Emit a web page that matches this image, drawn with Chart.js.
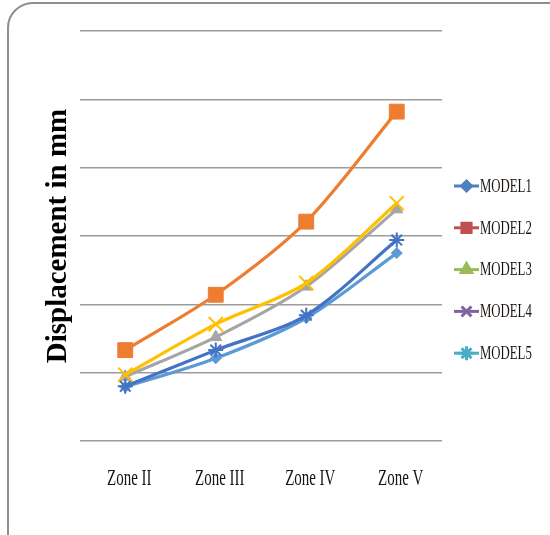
<!DOCTYPE html>
<html>
<head>
<meta charset="utf-8">
<script src="https://cdn.jsdelivr.net/npm/chart.js@4.4.1/dist/chart.umd.min.js"></script>
<style>
  html, body { margin: 0; padding: 0; background: #fff; overflow: hidden; }
  #wrap { position: relative; width: 550px; height: 535px; overflow: hidden; background: #fff; }
  #frame {
    position: absolute; left: 7px; top: 2px; width: 580px; height: 580px;
    border: 2px solid #8e8e8e; border-radius: 26px; box-sizing: border-box;
  }
  canvas { position: absolute; left: 0; top: 0; }
</style>
</head>
<body>
<div id="wrap">
  <div id="frame"></div>
  <canvas id="chart" width="550" height="535"></canvas>
</div>
<script>
// Categories and series values (displacement, arbitrary units of the axis grid)
const zones  = ['Zone II', 'Zone III', 'Zone IV', 'Zone V'];
const model1 = [0.79, 1.21, 1.80, 2.75];
const model2 = [1.33, 2.14, 3.21, 4.82];
const model3 = [0.94, 1.52, 2.26, 3.39];
const model4 = [0.97, 1.71, 2.31, 3.48];
const model5 = [0.80, 1.33, 1.84, 2.94];
const seriesNames = ['MODEL1', 'MODEL2', 'MODEL3', 'MODEL4', 'MODEL5'];
const yTitle = 'Displacement in mm';

const lineColors   = ['#5B9BD5', '#ED7D31', '#A5A5A5', '#FFC000', '#4472C4'];
const legendColors = ['#4F81BD', '#C0504D', '#9BBB59', '#8064A2', '#4BACC6'];
const markerStyles = ['rectRot', 'rect', 'triangle', 'crossRot', 'star'];
const markerRadii  = [5.5, 10.5, 7, 10, 7.5];
const legendRadii  = [5, 6.5, 6, 7, 7];

const seriesValues = [model1, model2, model3, model4, model5];

const datasets = seriesValues.map((vals, i) => ({
  label: seriesNames[i],
  data: vals,
  borderColor: lineColors[i],
  backgroundColor: lineColors[i],
  borderWidth: 3.2,
  tension: 0.3,
  pointStyle: markerStyles[i],
  pointRadius: markerRadii[i],
  pointBorderWidth: (markerStyles[i] === 'crossRot' || markerStyles[i] === 'star') ? 2 : 1,
  pointBackgroundColor: lineColors[i],
  pointBorderColor: lineColors[i],
  order: seriesValues.length - i   // later series sit on top
}));

// Narrow serif labels under the category axis and the line+marker legend at the right
const narrowText = {
  id: 'narrowText',
  afterDraw(chart) {
    const ctx = chart.ctx;
    const xs = chart.scales.x;
    const area = chart.chartArea;
    ctx.save();
    ctx.fillStyle = '#1a1410';
    ctx.textAlign = 'center';
    ctx.textBaseline = 'middle';
    ctx.font = '23px "Liberation Serif", "Times New Roman", serif';
    zones.forEach((z, i) => {
      const x = xs.getPixelForValue(i);
      ctx.save();
      ctx.translate(x + 4, area.bottom + 38);
      ctx.scale(0.65, 1);
      ctx.fillText(z, 0, 0);
      ctx.restore();
    });

    // legend
    const lx0 = area.right + 12, lx1 = area.right + 37;
    chart.data.datasets.forEach((ds, i) => {
      const y = 186 + i * 41.8;
      ctx.strokeStyle = legendColors[i];
      ctx.fillStyle = legendColors[i];
      ctx.lineWidth = 3;
      ctx.beginPath();
      ctx.moveTo(lx0, y);
      ctx.lineTo(lx1, y);
      ctx.stroke();
      Chart.helpers.drawPoint(ctx, {
        pointStyle: markerStyles[i],
        radius: legendRadii[i],
        rotation: 0,
        borderWidth: 1.5
      }, (lx0 + lx1) / 2, y);
      ctx.save();
      ctx.fillStyle = '#1a1410';
      ctx.textAlign = 'left';
      ctx.font = '18.5px "Liberation Serif", "Times New Roman", serif';
      ctx.translate(lx1 + 1, y + 1);
      ctx.scale(0.69, 1);
      ctx.fillText(ds.label, 0, 0);
      ctx.restore();
    });
    ctx.restore();
  }
};

new Chart(document.getElementById('chart'), {
  type: 'line',
  data: { labels: zones, datasets },
  options: {
    responsive: false,
    animation: false,
    devicePixelRatio: 1,
    layout: { padding: { left: 0, top: 31, right: 108, bottom: 0 } },
    plugins: {
      legend: { display: false },
      tooltip: { enabled: false }
    },
    scales: {
      x: {
        offset: true,
        grid: { display: false },
        border: { display: false },
        ticks: { display: false },
        afterFit(s) { s.height = 94; }
      },
      y: {
        min: 0,
        max: 6,
        ticks: { display: false, stepSize: 1 },
        grid: { color: '#9c9c9c', lineWidth: 1.4, drawTicks: false },
        border: { display: false },
        title: {
          display: true,
          text: yTitle,
          color: '#000',
          font: { family: '"Liberation Serif", "Times New Roman", serif', size: 29, weight: 'bold' },
          padding: { top: 41, bottom: 0 }
        },
        afterFit(s) { s.width = 80; }
      }
    }
  },
  plugins: [narrowText]
});
</script>
</body>
</html>
